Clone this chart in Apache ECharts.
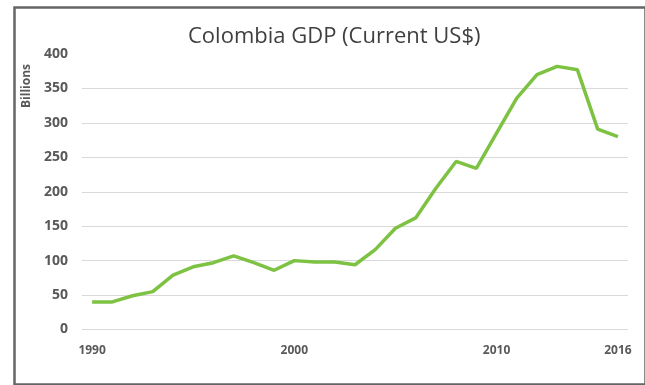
<!DOCTYPE html>
<html><head><meta charset="utf-8">
<script src="https://cdn.jsdelivr.net/npm/echarts@6/dist/echarts.min.js"></script>
<style>html,body{margin:0;padding:0;background:#fff}#c{width:645px;height:385px}</style>
</head><body><div id="c"></div>
<script>
const years = ['1990','1991','1992','1993','1994','1995','1996','1997','1998','1999','2000','2001','2002','2003','2004','2005','2006','2007','2008','2009','2010','2011','2012','2013','2014','2015','2016'];
const gdpBillions = [40,40,49,55,79,91,97,107,97,86,100,98,98,94,116,147,162,205,244,234,285,336,370,382,377,291,280];
const xTickLabels = ['1990','2000','2010','2016'];
const yTicks = [0,50,100,150,200,250,300,350,400];

const chart = echarts.init(document.getElementById('c'), null, {renderer:'canvas'});
chart.setOption({
  animation:false,
  backgroundColor:'#fff',
  title:{text:'Colombia GDP (Current US$)',left:183,top:21,
    textStyle:{fontFamily:'Open Sans',fontSize:22,fontWeight:'normal',color:'#3f3f3f'}},
  graphic:[
    {type:'rect',left:12,top:5,shape:{width:631,height:377},
      style:{fill:'none',stroke:'#666',lineWidth:2.5},silent:true},
    {type:'text',x:27,y:86,rotation:Math.PI/2,silent:true,
      style:{text:'Billions',fontFamily:'Open Sans',fontWeight:'bold',fontSize:12,fill:'#595959',
        textAlign:'center',textVerticalAlign:'middle'}}
  ],
  grid:{left:82,right:17,top:54,bottom:55.5},
  xAxis:{type:'category',data:years,boundaryGap:true,
    axisLine:{show:false},axisTick:{show:false},
    axisLabel:{interval:0,margin:15,fontFamily:'Open Sans',fontWeight:'bold',fontSize:12,color:'#595959',
      formatter:v=>xTickLabels.includes(v)?v:''},
    splitLine:{show:false}},
  yAxis:{type:'value',min:yTicks[0],max:yTicks[yTicks.length-1],interval:50,
    axisLine:{show:false},axisTick:{show:false},
    axisLabel:{margin:14,fontFamily:'Open Sans',fontWeight:'bold',fontSize:14,color:'#595959'},
    splitLine:{lineStyle:{color:['#d9d9d9','#d9d9d9','#d9d9d9','#d9d9d9','#d9d9d9','#d9d9d9','#d9d9d9','#d9d9d9','rgba(0,0,0,0)'],width:1}}},
  series:[{type:'line',data:gdpBillions,showSymbol:false,
    lineStyle:{color:'#7dc242',width:3.5},itemStyle:{color:'#7dc242'}}]
});
</script></body></html>
